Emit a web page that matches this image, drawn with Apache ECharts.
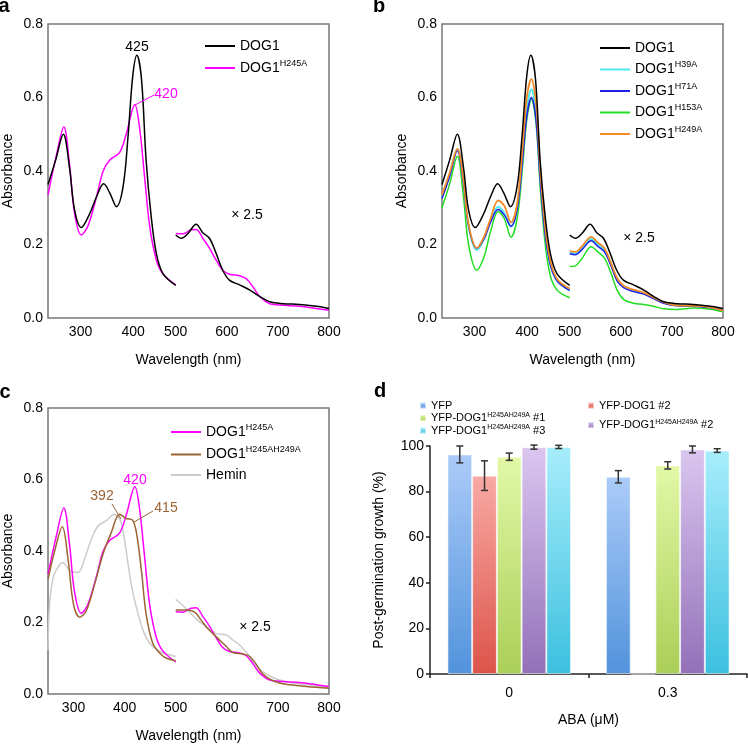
<!DOCTYPE html>
<html>
<head>
<meta charset="utf-8">
<script src="https://cdn.jsdelivr.net/npm/echarts@6/dist/echarts.min.js"></script>
<style>
  html, body { margin: 0; padding: 0; background: #fff; }
  #chart { width: 748px; height: 744px; }
</style>
</head>
<body>
<div id="chart"></div>
<script>
// Absorbance spectra: [wavelength nm, absorbance]; the "Vis" parts are the x2.5 region
const dog1Uv = [[250,0.363],[265,0.43],[280,0.50],[292,0.41],[302,0.294],[315,0.246],[332,0.285],[345,0.33],[359,0.365],[371,0.34],[384,0.303],[397,0.358],[407,0.50],[416,0.66],[424,0.715],[433,0.65],[442,0.43],[452,0.276],[462,0.176],[475,0.121],[500,0.089]];
const dog1Vis = [[500,0.226],[511,0.217],[524,0.23],[540,0.255],[553,0.232],[566,0.217],[579,0.176],[592,0.13],[605,0.103],[625,0.09],[645,0.076],[664,0.059],[684,0.044],[710,0.039],[742,0.037],[775,0.032],[800,0.026]];

const h245aUv = [[250,0.335],[266,0.44],[281,0.52],[292,0.42],[302,0.285],[315,0.226],[328,0.25],[345,0.33],[358,0.40],[371,0.43],[390,0.45],[403,0.50],[420,0.58],[429,0.52],[439,0.385],[449,0.25],[462,0.158],[475,0.12],[500,0.09]];
const h245aVis = [[500,0.23],[514,0.229],[530,0.24],[540,0.241],[553,0.217],[566,0.19],[579,0.158],[592,0.13],[605,0.119],[625,0.115],[638,0.107],[651,0.085],[664,0.059],[684,0.039],[710,0.035],[742,0.032],[775,0.026],[800,0.021]];

const h39aUv = [[250,0.33],[265,0.39],[280,0.46],[292,0.37],[302,0.25],[318,0.185],[332,0.215],[345,0.265],[360,0.303],[372,0.285],[385,0.249],[397,0.30],[407,0.43],[416,0.57],[425,0.622],[434,0.56],[443,0.37],[453,0.22],[463,0.14],[476,0.10],[500,0.075]];
const h39aVis = [[500,0.178],[511,0.175],[524,0.19],[542,0.215],[555,0.20],[568,0.185],[580,0.15],[593,0.105],[606,0.085],[625,0.075],[645,0.067],[664,0.055],[684,0.042],[710,0.034],[742,0.033],[775,0.029],[800,0.022]];

const h71aUv = [[250,0.325],[265,0.385],[280,0.455],[292,0.365],[302,0.25],[318,0.19],[332,0.215],[345,0.26],[360,0.295],[372,0.28],[385,0.25],[397,0.295],[407,0.42],[416,0.55],[425,0.60],[434,0.54],[443,0.36],[453,0.215],[463,0.14],[476,0.10],[500,0.075]];
const h71aVis = [[500,0.175],[511,0.172],[524,0.186],[542,0.21],[555,0.195],[568,0.18],[580,0.145],[593,0.10],[606,0.082],[625,0.072],[645,0.065],[664,0.053],[684,0.04],[710,0.033],[742,0.032],[775,0.028],[800,0.021]];

const h153aUv = [[250,0.30],[265,0.365],[280,0.44],[292,0.33],[302,0.20],[318,0.13],[332,0.165],[345,0.235],[360,0.29],[372,0.27],[385,0.22],[397,0.27],[407,0.40],[416,0.54],[425,0.595],[434,0.53],[443,0.34],[453,0.19],[463,0.11],[476,0.075],[500,0.055]];
const h153aVis = [[500,0.14],[511,0.142],[524,0.162],[542,0.194],[555,0.18],[568,0.163],[580,0.125],[593,0.075],[606,0.05],[625,0.04],[645,0.037],[664,0.032],[684,0.025],[710,0.023],[742,0.027],[775,0.024],[800,0.017]];

const h249aUv = [[250,0.335],[265,0.395],[280,0.46],[292,0.375],[302,0.255],[318,0.19],[332,0.22],[345,0.27],[360,0.32],[372,0.305],[385,0.26],[397,0.31],[407,0.45],[416,0.60],[425,0.65],[434,0.585],[443,0.39],[453,0.235],[463,0.15],[476,0.105],[500,0.08]];
const h249aVis = [[500,0.182],[511,0.18],[524,0.195],[542,0.221],[555,0.205],[568,0.19],[580,0.152],[593,0.108],[606,0.087],[625,0.077],[645,0.069],[664,0.056],[684,0.043],[710,0.034],[742,0.033],[775,0.029],[800,0.02]];

const doubleUv = [[250,0.32],[263,0.40],[278,0.468],[289,0.38],[300,0.25],[312,0.215],[325,0.233],[341,0.306],[358,0.393],[374,0.452],[390,0.503],[403,0.491],[415,0.487],[423,0.452],[433,0.343],[442,0.224],[455,0.142],[469,0.114],[482,0.10],[500,0.093]];
const doubleVis = [[500,0.235],[521,0.235],[537,0.229],[550,0.206],[566,0.178],[583,0.155],[599,0.133],[612,0.116],[632,0.112],[645,0.105],[658,0.082],[671,0.055],[690,0.037],[716,0.027],[756,0.021],[800,0.016]];

const heminUv = [[250,0.123],[253,0.25],[260,0.325],[270,0.356],[279,0.368],[289,0.352],[299,0.341],[309,0.340],[322,0.38],[335,0.434],[348,0.47],[364,0.485],[380,0.503],[393,0.48],[403,0.40],[413,0.306],[423,0.242],[436,0.178],[449,0.142],[469,0.119],[500,0.105]];
const heminVis = [[500,0.265],[521,0.238],[540,0.21],[560,0.187],[579,0.169],[599,0.165],[612,0.151],[625,0.137],[645,0.105],[664,0.069],[690,0.046],[723,0.032],[762,0.025],[800,0.018]];

// Panel d: post-germination growth (%)
const abaLevels = ['0', '0.3'];
const growthNames = ['YFP', 'YFP-DOG1 #2', 'YFP-DOG1 H245AH249A #1', 'YFP-DOG1 H245AH249A #2', 'YFP-DOG1 H245AH249A #3'];
const yfpGrowth = [96.3, 86.5];
const yfpErr = [3.7, 2.7];
const dog1n2Growth = [87.0, 0];
const dog1n2Err = [6.5, '-'];
const dbl1Growth = [95.3, 91.5];
const dbl1Err = [1.6, 1.6];
const dbl2Growth = [99.5, 98.5];
const dbl2Err = [0.9, 1.5];
const dbl3Growth = [99.6, 98.0];
const dbl3Err = [0.7, 0.8];

const FONT = 'Liberation Sans, Arial, sans-serif';

// bar colours: [top, bottom]
const barColors = [
  ['#abcbf8', '#5293dc'],
  ['#f9a9a5', '#dc5449'],
  ['#e2f8a7', '#aacf57'],
  ['#dac6ef', '#9370b9'],
  ['#a7edfb', '#3cc0df']
];

function legendLabel(name) {
  const m = name.match(/^(\S+) (H\w+)(.*)$/);
  if (!m) return '{b|' + name + '}';
  return '{b|' + m[1] + '}{s|' + m[2] + '}' + (m[3] ? '{b|' + m[3] + '}' : '');
}

function line(name, data, color, gi, width) {
  return {
    type: 'line',
    name: name,
    data: data,
    xAxisIndex: gi,
    yAxisIndex: gi,
    showSymbol: false,
    smooth: 0.35,
    lineStyle: { color: color, width: width || 1.5 },
    itemStyle: { color: color },
    z: 3
  };
}

// the 300 and 400 labels sit a little right of their ticks in panels a and b
function specX(gi, nudge) {
  return {
    type: 'value', gridIndex: gi, min: 250, max: 800, interval: 50,
    name: 'Wavelength (nm)', nameLocation: 'middle', nameGap: 35,
    nameTextStyle: { fontFamily: FONT, fontSize: 14, color: '#000' },
    axisLine: { show: false }, axisTick: { show: false }, splitLine: { show: false },
    axisLabel: {
      fontFamily: FONT, fontSize: 14, color: '#000', margin: 7,
      formatter: v => {
        if (v % 100 !== 0) return '';
        if (nudge && v === 300) return '{p3|300}';
        if (nudge && v === 400) return '{p4|400}';
        return String(v);
      },
      rich: {
        p3: { fontFamily: FONT, fontSize: 14, color: '#000', padding: [0, 0, 0, 14] },
        p4: { fontFamily: FONT, fontSize: 14, color: '#000', padding: [0, 0, 0, 17] }
      }
    }
  };
}

function specY(gi) {
  return {
    type: 'value', gridIndex: gi, min: 0, max: 0.8, interval: 0.2,
    name: 'Absorbance', nameLocation: 'middle', nameGap: 33,
    nameTextStyle: { fontFamily: FONT, fontSize: 14, color: '#000' },
    axisLine: { show: false }, axisTick: { show: false }, splitLine: { show: false },
    axisLabel: { fontFamily: FONT, fontSize: 14, color: '#000', margin: 5, formatter: v => v.toFixed(1) }
  };
}

function specLegend(left, top, names, gap) {
  return {
    orient: 'vertical', left: left, top: top, padding: 0, itemGap: gap,
    icon: 'rect', itemWidth: 30, itemHeight: 2, selectedMode: false,
    data: names,
    formatter: legendLabel,
    textStyle: {
      fontFamily: FONT, color: '#000',
      rich: {
        b: { fontFamily: FONT, fontSize: 14, lineHeight: 18, color: '#000' },
        s: { fontFamily: FONT, fontSize: 9, color: '#000', verticalAlign: 'top' }
      }
    }
  };
}

function barSeries(k, values) {
  return {
    type: 'bar', name: growthNames[k], data: values,
    xAxisIndex: 3, yAxisIndex: 3,
    barGap: 0, barCategoryGap: '22%',
    itemStyle: {
      color: {
        type: 'linear', x: 0, y: 0, x2: 0, y2: 1,
        colorStops: [{ offset: 0, color: barColors[k][0] }, { offset: 1, color: barColors[k][1] }]
      },
      borderColor: 'rgba(255,255,255,0.55)', borderWidth: 1
    }
  };
}

function errSeries(k, values, errs) {
  return {
    type: 'custom', name: growthNames[k] + ' err', xAxisIndex: 3, yAxisIndex: 3, z: 5,
    data: values.map((v, i) => [i, v, errs[i]]),
    renderItem: (params, api) => {
      const e = api.value(2);
      if (e === '-' || isNaN(e)) return null;
      const idx = api.value(0), v = api.value(1);
      const band = api.size([1, 0])[0];
      const barW = band * 0.78 / 5;
      const cx = api.coord([idx, v])[0] + (k - 2) * barW;
      const yTop = api.coord([idx, v + e])[1];
      const yBot = api.coord([idx, v - e])[1];
      const st = { stroke: '#333', lineWidth: 1.5 };
      return {
        type: 'group',
        children: [
          { type: 'line', shape: { x1: cx, y1: yTop, x2: cx, y2: yBot }, style: st },
          { type: 'line', shape: { x1: cx - 3.5, y1: yTop, x2: cx + 3.5, y2: yTop }, style: st },
          { type: 'line', shape: { x1: cx - 3.5, y1: yBot, x2: cx + 3.5, y2: yBot }, style: st }
        ]
      };
    }
  };
}

function label(text, x, y, color, size, weight) {
  return {
    type: 'text', x: x, y: y, z: 10,
    style: {
      text: text, fill: color || '#000',
      font: (weight || 'normal') + ' ' + (size || 14) + 'px ' + FONT,
      textAlign: 'center', textVerticalAlign: 'middle', align: 'center', verticalAlign: 'middle'
    }
  };
}

function leader(x1, y1, x2, y2, color) {
  return { type: 'line', z: 10, shape: { x1: x1, y1: y1, x2: x2, y2: y2 }, style: { stroke: color, lineWidth: 1 } };
}

const chart = echarts.init(document.getElementById('chart'));

const BOX = { show: true, borderColor: '#777', borderWidth: 1.5 };

const smallRich = {
  b: { fontFamily: FONT, fontSize: 11, lineHeight: 13, color: '#000' },
  s: { fontFamily: FONT, fontSize: 7, color: '#000', verticalAlign: 'top' }
};

const option = {
  animation: false,
  backgroundColor: '#fff',
  grid: [
    Object.assign({ left: 48, top: 24, width: 281, height: 294 }, BOX),
    Object.assign({ left: 442, top: 24, width: 281, height: 294 }, BOX),
    Object.assign({ left: 48, top: 408, width: 281, height: 294 }, BOX),
    { left: 430, top: 446, width: 317, height: 228 }
  ],
  xAxis: [
    specX(0, true), specX(1, true), specX(2, false),
    {
      type: 'category', gridIndex: 3, data: abaLevels,
      name: 'ABA (\u03bcM)', nameLocation: 'middle', nameGap: 39,
      nameTextStyle: { fontFamily: FONT, fontSize: 14, color: '#000' },
      axisLine: { lineStyle: { color: '#222', width: 1.5 } },
      axisTick: { show: true, length: 4, lineStyle: { color: '#222', width: 1.5 } },
      axisLabel: { fontFamily: FONT, fontSize: 14, color: '#000', margin: 12 }
    }
  ],
  yAxis: [
    specY(0), specY(1), specY(2),
    {
      type: 'value', gridIndex: 3, min: 0, max: 100, interval: 20,
      name: 'Post-germination growth (%)', nameLocation: 'middle', nameGap: 44,
      nameTextStyle: { fontFamily: FONT, fontSize: 14, color: '#000' },
      axisLine: { show: true, lineStyle: { color: '#222', width: 1.5 } },
      axisTick: { show: true, length: 4, lineStyle: { color: '#222', width: 1.5 } },
      splitLine: { show: false },
      axisLabel: { fontFamily: FONT, fontSize: 14, color: '#000', margin: 6 }
    }
  ],
  legend: [
    specLegend(205, 39, ['DOG1', 'DOG1 H245A'], 6),
    specLegend(600, 41, ['DOG1', 'DOG1 H39A', 'DOG1 H71A', 'DOG1 H153A', 'DOG1 H249A'], 5.5),
    specLegend(171, 423, ['DOG1 H245A', 'DOG1 H245AH249A', 'Hemin'], 6.5),
    {
      orient: 'vertical', left: 419, top: 400, padding: 0, itemGap: 0.5,
      icon: 'rect', itemWidth: 6, itemHeight: 6, selectedMode: false,
      data: [growthNames[0], growthNames[2], growthNames[4]],
      formatter: legendLabel,
      textStyle: { fontFamily: FONT, color: '#000', rich: smallRich }
    },
    {
      orient: 'vertical', left: 587, top: 400, padding: 0, itemGap: 7.5,
      icon: 'rect', itemWidth: 6, itemHeight: 6, selectedMode: false,
      data: [growthNames[1], growthNames[3]],
      formatter: legendLabel,
      textStyle: { fontFamily: FONT, color: '#000', rich: smallRich }
    }
  ],
  series: [
    // panel a
    line('DOG1 H245A', h245aUv, '#ff00ff', 0),
    line('DOG1 H245A', h245aVis, '#ff00ff', 0),
    line('DOG1', dog1Uv, '#000000', 0),
    line('DOG1', dog1Vis, '#000000', 0),
    // panel b
    line('DOG1 H153A', h153aUv, '#22dd22', 1),
    line('DOG1 H153A', h153aVis, '#22dd22', 1),
    line('DOG1 H39A', h39aUv, '#4de8f2', 1, 2),
    line('DOG1 H39A', h39aVis, '#4de8f2', 1, 2),
    line('DOG1 H71A', h71aUv, '#1f1fe6', 1),
    line('DOG1 H71A', h71aVis, '#1f1fe6', 1),
    line('DOG1 H249A', h249aUv, '#f28a26', 1, 1.8),
    line('DOG1 H249A', h249aVis, '#f28a26', 1, 1.8),
    line('DOG1', dog1Uv, '#000000', 1),
    line('DOG1', dog1Vis, '#000000', 1),
    // panel c
    line('Hemin', heminUv, '#cccccc', 2),
    line('Hemin', heminVis, '#cccccc', 2),
    line('DOG1 H245A', h245aUv, '#ff00ff', 2),
    line('DOG1 H245A', h245aVis, '#ff00ff', 2),
    line('DOG1 H245AH249A', doubleUv, '#9a6434', 2),
    line('DOG1 H245AH249A', doubleVis, '#9a6434', 2),
    // panel d
    barSeries(0, yfpGrowth),
    barSeries(1, dog1n2Growth),
    barSeries(2, dbl1Growth),
    barSeries(3, dbl2Growth),
    barSeries(4, dbl3Growth),
    errSeries(0, yfpGrowth, yfpErr),
    errSeries(1, dog1n2Growth, dog1n2Err),
    errSeries(2, dbl1Growth, dbl1Err),
    errSeries(3, dbl2Growth, dbl2Err),
    errSeries(4, dbl3Growth, dbl3Err)
  ],
  graphic: [
    label('a', 4, 6, '#000', 20, 'bold'),
    label('b', 379, 6, '#000', 20, 'bold'),
    label('c', 5, 392, '#000', 20, 'bold'),
    label('d', 380, 391, '#000', 20, 'bold'),
    // panel a annotations
    label('425', 137, 47, '#000'),
    label('420', 166, 94, '#ff00ff'),
    leader(135, 105, 154, 95, '#ff00ff'),
    label('\u00d7 2.5', 247, 215, '#000'),
    // panel b
    label('\u00d7 2.5', 639, 238, '#000'),
    // panel c
    label('420', 135, 480, '#ff00ff'),
    label('392', 102, 496, '#9a6434'),
    leader(112, 504, 121, 519, '#9a6434'),
    label('415', 166, 508, '#9a6434'),
    leader(153, 511, 134, 522, '#9a6434'),
    label('\u00d7 2.5', 255, 627, '#000')
  ]
};

chart.setOption(option);
</script>
</body>
</html>
